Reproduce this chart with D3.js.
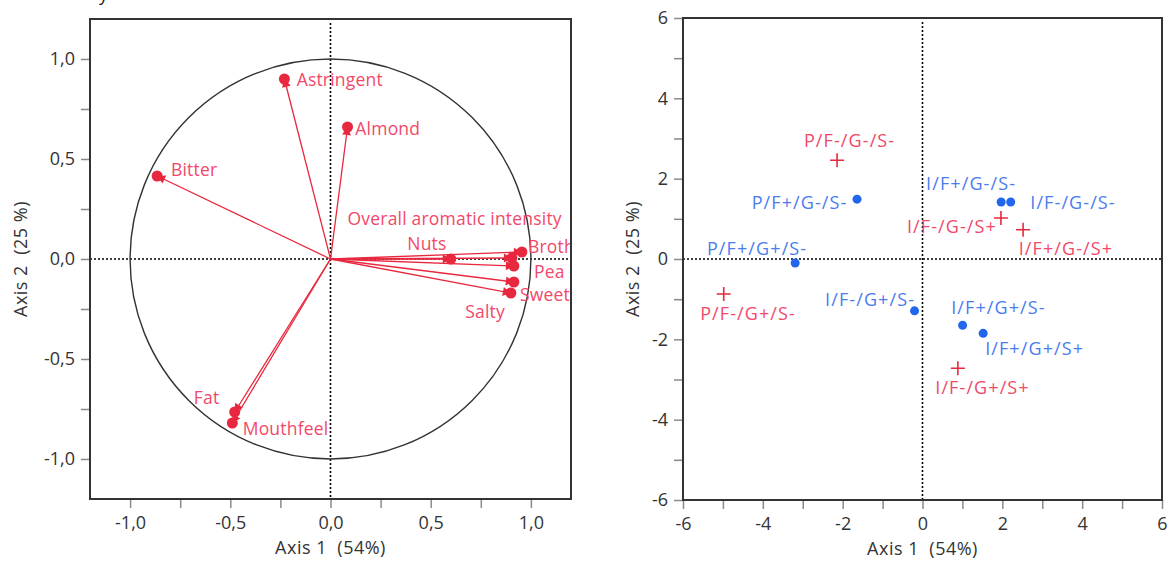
<!DOCTYPE html>
<html><head><meta charset="utf-8">
<script src="https://cdn.jsdelivr.net/npm/d3@7"></script>
<style>
html,body{margin:0;padding:0;background:#fff;}
svg{display:block;font-family:"Open Sans","Noto Sans",sans-serif;}
</style></head>
<body><svg id="c" width="1168" height="562"></svg>
<script>
// ---- Left panel: correlation circle (variables) ----
const varNames = ["Astringent","Almond","Bitter","Overall aromatic intensity","Nuts","Broth","Pea","Sweet","Salty","Fat","Mouthfeel"];
const varX = [-0.23, 0.085, -0.865, 0.905, 0.60, 0.955, 0.915, 0.915, 0.90, -0.478, -0.49];
const varY = [0.90, 0.66, 0.415, 0.005, 0.0, 0.035, -0.035, -0.115, -0.17, -0.765, -0.82];
// label anchors (left edge, vertical middle) in data units
const varLabelX = [-0.169, 0.124, -0.796, 0.085, 0.383, 0.985, 1.015, 0.945, 0.672, -0.682, -0.438];
const varLabelY = [0.90, 0.655, 0.45, 0.205, 0.08, 0.065, -0.06, -0.175, -0.26, -0.69, -0.845];
const leftMajorTicks = [-1.0, -0.5, 0.0, 0.5, 1.0];
const leftMinorTicks = [-1.0,-0.75,-0.5,-0.25,0,0.25,0.5,0.75,1.0];

// ---- Right panel: observations ----
const obsNames = ["P/F-/G-/S-","P/F+/G-/S-","I/F+/G-/S-","I/F-/G-/S-","I/F-/G-/S+","I/F+/G-/S+","P/F+/G+/S-","P/F-/G+/S-","I/F-/G+/S-","I/F+/G+/S-","I/F+/G+/S+","I/F-/G+/S+"];
const obsX = [-2.14, -1.64, 1.97, 2.21, 1.965, 2.52, -3.19, -4.98, -0.20, 1.005, 1.52, 0.886];
const obsY = [2.46, 1.49, 1.42, 1.42, 1.02, 0.73, -0.10, -0.87, -1.29, -1.65, -1.85, -2.72];
const obsType = ["cross","dot","dot","dot","cross","cross","dot","cross","dot","dot","dot","cross"];
const obsLabelX = [-2.97, -4.28, 0.09, 2.70, -0.39, 2.41, -5.40, -5.57, -2.44, 0.72, 1.57, 0.32];
const obsLabelY = [2.96, 1.42, 1.88, 1.42, 0.815, 0.275, 0.275, -1.35, -1.0, -1.2, -2.22, -3.18];
const rightMajorTicks = [-6,-4,-2,0,2,4,6];
const rightMinorTicks = [-6,-5,-4,-3,-2,-1,0,1,2,3,4,5,6];

const xTitle = "Axis 1\u00a0 (54%)";
const yTitleL = "Axis 2\u00a0 (25 %)";
const yTitleR = "Axis 2\u00a0 (25 %)";

const RED = "#e8283f", RED_TXT = "#f2486a", BLUE = "#2266ee", BLUE_TXT = "#4a7cf0";
const FRAME = "#333", TICK = "#8a8a8a", TXT = "#333";
const FS = "18px";
const svg = d3.select("#c");
const fmtComma = d => d3.format(".1f")(d).replace(".", ",").replace("\u2212","-");
const fmtInt = d => d3.format("d")(d).replace("\u2212","-");

// fragment of a caption cut off at the top edge (as in the source image)
svg.append("text").attr("x",99).attr("y",1).attr("fill","#222").attr("font-size",FS).text("y");

function panel(opts){
  const {x, y, major, minor, fmt, clipId} = opts;
  const g = svg.append("g");
  const [x0,x1] = x.range(), [y0,y1] = y.range();
  svg.append("defs").append("clipPath").attr("id", clipId)
    .append("rect").attr("x", x0).attr("y", y1).attr("width", x1-x0).attr("height", y0-y1);
  g.append("g").attr("transform",`translate(0,${y0})`)
    .call(d3.axisBottom(x).tickValues(minor).tickSize(9).tickFormat(""))
    .call(a=>a.select(".domain").remove())
    .call(a=>a.selectAll("line").attr("stroke",TICK).attr("stroke-width",1.5));
  g.append("g").attr("transform",`translate(${x0},0)`)
    .call(d3.axisLeft(y).tickValues(minor).tickSize(9).tickFormat(""))
    .call(a=>a.select(".domain").remove())
    .call(a=>a.selectAll("line").attr("stroke",TICK).attr("stroke-width",1.5));
  g.append("g").attr("transform",`translate(0,${y0})`)
    .call(d3.axisBottom(x).tickValues(major).tickSize(0).tickPadding(17).tickFormat(fmt))
    .call(a=>a.select(".domain").remove())
    .call(a=>a.selectAll("text").attr("fill",TXT).attr("font-size",FS).attr("font-family","'Open Sans',sans-serif"));
  g.append("g").attr("transform",`translate(${x0},0)`)
    .call(d3.axisLeft(y).tickValues(major).tickSize(0).tickPadding(15).tickFormat(fmt))
    .call(a=>a.select(".domain").remove())
    .call(a=>a.selectAll("text").attr("fill",TXT).attr("font-size",FS).attr("font-family","'Open Sans',sans-serif"));
  g.append("line").attr("x1",x(0)).attr("x2",x(0)).attr("y1",y1+4).attr("y2",y0)
    .attr("stroke","#000").attr("stroke-width",1.6).attr("stroke-dasharray","2,2");
  g.append("line").attr("x1",x0).attr("x2",x1).attr("y1",y(0)).attr("y2",y(0))
    .attr("stroke","#000").attr("stroke-width",1.6).attr("stroke-dasharray","2,2");
  g.append("text").attr("x",(x0+x1)/2).attr("y",y0+55).attr("text-anchor","middle")
    .attr("fill",TXT).attr("font-size",FS).attr("letter-spacing","0.5px").text(xTitle);
  g.append("text").attr("transform",`translate(${opts.yTitleX},${(y0+y1)/2}) rotate(-90)`)
    .attr("text-anchor","middle").attr("dominant-baseline","central")
    .attr("fill",TXT).attr("font-size",FS).attr("letter-spacing","0.5px").text(opts.yTitle);
  return g;
}
function frame(x,y){
  const [x0,x1] = x.range(), [y0,y1] = y.range();
  svg.append("rect").attr("x",x0).attr("y",y1).attr("width",x1-x0).attr("height",y0-y1)
    .attr("fill","none").attr("stroke",FRAME).attr("stroke-width",2);
}

// ----- LEFT -----
const xL = d3.scaleLinear().domain([-1.2,1.2]).range([90,571]);
const yL = d3.scaleLinear().domain([-1.2,1.2]).range([499,19]);
const gL = panel({x:xL,y:yL,major:leftMajorTicks,minor:leftMinorTicks,fmt:fmtComma,clipId:"clipL",yTitle:yTitleL,yTitleX:20});
const cL = gL.append("g").attr("clip-path","url(#clipL)");
cL.append("ellipse").attr("cx",xL(0)).attr("cy",yL(0))
  .attr("rx",xL(1)-xL(0)).attr("ry",yL(0)-yL(1))
  .attr("fill","none").attr("stroke","#333").attr("stroke-width",1.4);
const vars = varNames.map((n,i)=>({n,x:varX[i],y:varY[i],lx:varLabelX[i],ly:varLabelY[i]}));
vars.forEach(v=>{
  const px=xL(v.x), py=yL(v.y), ox=xL(0), oy=yL(0);
  cL.append("line").attr("x1",ox).attr("y1",oy).attr("x2",px).attr("y2",py)
    .attr("stroke",RED).attr("stroke-width",1.3);
  const ang = Math.atan2(py-oy, px-ox);
  const ux=Math.cos(ang), uy=Math.sin(ang), nx=-uy, ny=ux;
  const bx=px-ux*8, by=py-uy*8;
  cL.append("path").attr("d",`M${px},${py}L${bx+nx*4.5},${by+ny*4.5}L${bx-nx*4.5},${by-ny*4.5}Z`).attr("fill",RED);
  cL.append("circle").attr("cx",px).attr("cy",py).attr("r",5.5).attr("fill",RED);
});
cL.selectAll("text.vl").data(vars).join("text").attr("class","vl")
  .attr("x",d=>xL(d.lx)).attr("y",d=>yL(d.ly)).attr("dominant-baseline","central")
  .attr("fill",RED_TXT).attr("font-size","17.5px").attr("letter-spacing","0.2px").text(d=>d.n);
frame(xL,yL);

// ----- RIGHT -----
const xR = d3.scaleLinear().domain([-6,6]).range([683,1162]);
const yR = d3.scaleLinear().domain([-6,6]).range([500,18]);
const gR = panel({x:xR,y:yR,major:rightMajorTicks,minor:rightMinorTicks,fmt:fmtInt,clipId:"clipR",yTitle:yTitleR,yTitleX:632});
const obs = obsNames.map((n,i)=>({n,x:obsX[i],y:obsY[i],t:obsType[i],lx:obsLabelX[i],ly:obsLabelY[i]}));
const cR = gR.append("g").attr("clip-path","url(#clipR)");
obs.forEach(o=>{
  const px=xR(o.x), py=yR(o.y);
  if(o.t==="dot"){
    cR.append("circle").attr("cx",px).attr("cy",py).attr("r",4.5).attr("fill",BLUE);
  } else {
    cR.append("path").attr("d",`M${px-7},${py}H${px+7}M${px},${py-7}V${py+7}`)
      .attr("stroke",RED).attr("stroke-width",1.6);
  }
});
cR.selectAll("text.ol").data(obs).join("text").attr("class","ol")
  .attr("x",d=>xR(d.lx)).attr("y",d=>yR(d.ly)).attr("dominant-baseline","central")
  .attr("fill",d=>d.t==="dot"?BLUE_TXT:RED_TXT).attr("font-size",FS).attr("letter-spacing","1.1px").text(d=>d.n);
frame(xR,yR);
</script></body></html>
